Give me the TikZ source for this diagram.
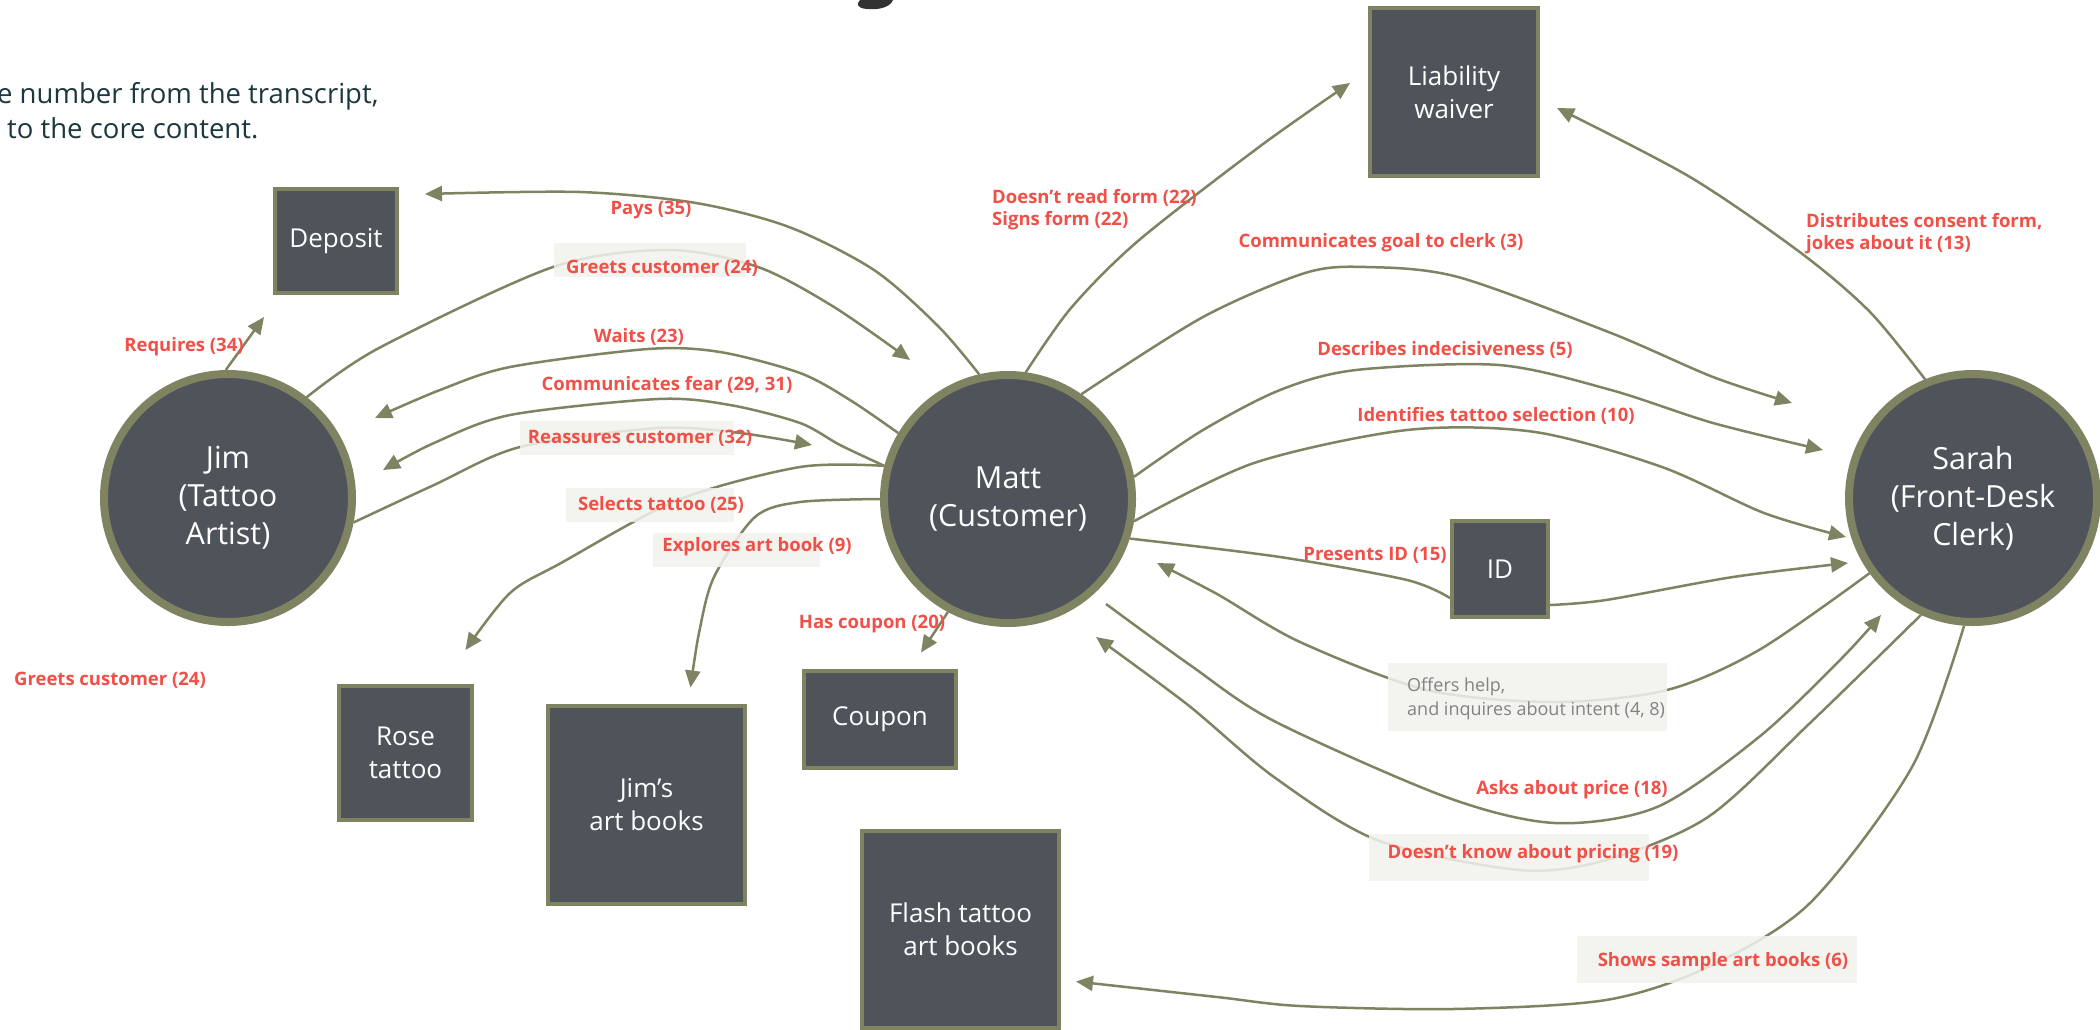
\documentclass[tikz,border=0pt]{standalone}
\usepackage{fontspec}
\setmainfont{Open Sans}
\usetikzlibrary{arrows.meta}
\definecolor{sage}{RGB}{127,131,98}
\definecolor{slate}{RGB}{79,83,90}
\definecolor{coral}{RGB}{240,80,72}
\definecolor{tagbg}{RGB}{242,242,237}
\definecolor{memo}{RGB}{130,130,130}
\definecolor{introteal}{RGB}{28,56,62}
\definecolor{titleink}{RGB}{50,50,50}

\tikzset{
  actor/.style={circle, draw=sage, fill=slate, line width=8pt, minimum size=248pt,
    inner sep=0pt, text=white, align=center, font=\fontsize{30.5}{38}\selectfont},
  thing/.style={rectangle, draw=sage, fill=slate, line width=4pt, inner sep=0pt,
    text=white, align=center, font=\fontsize{26}{33}\selectfont},
  link/.style={draw=sage, line width=2.5pt},
  flow/.style={link, -{Triangle[length=17pt,width=15pt]}},
  act/.style={text=coral, inner sep=0pt, font=\bfseries\fontsize{18.5}{22}\selectfont},
  note/.style={text=memo, inner sep=0pt, align=left, font=\fontsize{18}{24}\selectfont},
  tag/.style={fill=tagbg, fill opacity=.85}
}

\begin{document}
\begin{tikzpicture}[x=1pt, y=-1pt]
\useasboundingbox (0,0) rectangle (2100,1029);
\fill[white] (0,0) rectangle (2100,1029);

% cut-off title and intro text
\fill[titleink] (860,0) -- (893,0) .. controls (890,7) and (880,10) .. (868,9)
  .. controls (862,9) and (857,7) .. (858,3) -- cycle;
\node[anchor=base west, inner sep=0pt, text=introteal, font=\fontsize{27.5}{35}\selectfont]
  (intro1) at (-3,103) {e number from the transcript,};
\node[anchor=base west, inner sep=0pt, text=introteal, font=\fontsize{27.5}{35}\selectfont]
  (intro2) at (7,138) {to the core content.};

% people
\node[actor] (jim) at (228,498) {Jim\\(Tattoo\\Artist)};
\node[actor] (matt) at (1008,499) {Matt\\(Customer)};
\node[actor] (sarah) at (1973,498) {Sarah\\(Front-Desk\\Clerk)};

% things
\node[thing, minimum width=122pt, minimum height=104pt] (deposit) at (336,241) {Deposit};
\node[thing, minimum width=168pt, minimum height=168pt] (liability) at (1454,92) {Liability\\waiver};
\node[thing, minimum width=96pt, minimum height=96pt] (id) at (1500,569) {ID};
\node[thing, minimum width=152pt, minimum height=97pt] (coupon) at (880,719) {Coupon};
\node[thing, minimum width=133pt, minimum height=134pt] (rose) at (405.5,753) {Rose\\tattoo};
\node[thing, minimum width=197pt, minimum height=198pt] (jimbooks) at (646.5,804.5) {Jim’s\\art books};
\node[thing, minimum width=197pt, minimum height=197pt] (flash) at (960.5,929.5) {Flash tattoo\\art books};

% Jim
\draw[flow] (jim.91) -- ([shift={(-9,22)}]deposit.south west);
\draw[flow] plot[smooth] coordinates {(jim.52) (379,348) (553,267) (669,250) (758,267)
  (834,307) ([shift={(-98,-139)}]matt.center)};
\draw[flow] plot[smooth] coordinates {(jim.-11) (434,485) (520,447) (658,428) (740,433)
  ([shift={(-196,-54)}]matt.center)};

% Matt
\draw[flow] plot[smooth] coordinates {(matt.149) (850,400) (800,373) (720,352) (648,349)
  (510,367) (440,390) ([shift={(147,-80)}]jim.center)};
\draw[flow] plot[smooth] coordinates {(matt.165) (840,445) (800,423) (730,405) (658,399)
  (510,415) (434,443) ([shift={(155,-28)}]jim.center)};
\draw[flow] plot[smooth] coordinates {(matt.165) (800,467) (678,500) (561,563) (510,593)
  ([shift={(60,-34)}]rose.north)};
\draw[flow] plot[smooth] coordinates {(matt.180) (800,502) (755,517) (714,577) (699,633)
  ([shift={(44,-16)}]jimbooks.north)};
\draw[flow] plot[smooth] coordinates {(matt.103) (938,326) (874,270) (789,227) (696,203)
  (580,192) ([shift={(26,7)}]deposit.north east)};
\draw[flow] (matt.242) -- ([shift={(41,-16)}]coupon.north);
\draw[flow] plot[smooth] coordinates {(matt.82) (1071,308) (1138,241) (1259,147)
  ([shift={(-18,-9)}]liability.west)};
\draw[flow] plot[smooth] coordinates {(matt.55) (1203,317) (1305,273) (1366,267) (1458,277)
  (1611,333) (1713,377) ([shift={(-181,-95)}]sarah.center)};
\draw[flow] plot[smooth] coordinates {(matt.10) (1203,430) (1280,390) (1356,370) (1499,365)
  (1611,390) (1713,423) ([shift={(-150,-48)}]sarah.center)};
\draw[flow] plot[smooth] coordinates {(matt.-10) (1254,463) (1407,430) (1535,432) (1662,467)
  (1764,513) ([shift={(-127,39)}]sarah.center)};
\draw[link] plot[smooth] coordinates {(matt.-18) (1280,557) (1407,580) ([shift={(0,29)}]id.west)};
\draw[flow] plot[smooth] coordinates {([shift={(0,36)}]id.east) (1606,600) (1733,577)
  ([shift={(-125,65)}]sarah.center)};
\draw[flow] plot[smooth] coordinates {([shift={(98,105)}]matt.center) (1190,665) (1274,721)
  (1446,797) (1555,823) (1657,807) (1759,737) (1840,660) ([shift={(-92,117)}]sarah.center)};

% Sarah
\draw[flow] plot[smooth] coordinates {(sarah.216) (1759,650) (1667,690) (1555,702) (1427,690)
  (1300,642) (1217,594) ([shift={(149,64)}]matt.center)};
\draw[flow] plot[smooth] coordinates {(sarah.246) (1810,723) (1708,817) (1606,860) (1519,870)
  (1377,840) (1274,777) (1188,705) ([shift={(88,138)}]matt.center)};
\draw[flow] plot[smooth] coordinates {(sarah.266) (1912,767) (1810,903) (1708,967) (1606,1000)
  (1453,1009) (1300,1006) (1217,997) ([shift={(15,52)}]flash.east)};
\draw[flow] plot[smooth] coordinates {(sarah.112) (1870,312) (1801,253) (1690,177)
  ([shift={(17,16)}]liability.east)};

% label backgrounds
\fill[tag] (554,243) rectangle (746,277);
\fill[tag] (520,421) rectangle (734,455);
\fill[tag] (566,488) rectangle (734,522);
\fill[tag] (653,533) rectangle (820,567);
\fill[tag] (1388,663) rectangle (1667,731);
\fill[tag] (1369,834) rectangle (1649,881);
\fill[tag] (1577,936) rectangle (1857,983);

% labels
\node[act] (pays) at (651,210) {Pays (35)};
\node[act] (greets) at (662,268) {Greets customer (24)};
\node[act] (waits) at (639,337) {Waits (23)};
\node[act] (fear) at (667,385) {Communicates fear (29, 31)};
\node[act] (reassures) at (640,438) {Reassures customer (32)};
\node[act] (selects) at (661,505) {Selects tattoo (25)};
\node[act] (explores) at (757,547) {Explores art book (9)};
\node[act] (requires) at (184,347) {Requires (34)};
\node[act] (greetsold) at (110,680) {Greets customer (24)};
\node[act, anchor=west, align=left] (signs) at (992,210) {Doesn’t read form (22)\\Signs form (22)};
\node[act] (goal) at (1381,243) {Communicates goal to clerk (3)};
\node[act] (indecisive) at (1445,350) {Describes indecisiveness (5)};
\node[act] (selection) at (1496,416) {Identifies tattoo selection (10)};
\node[act] (presents) at (1375,555) {Presents ID (15)};
\node[note, anchor=west] (offers) at (1407,699) {Offers help,\\and inquires about intent (4, 8)};
\node[act] (price) at (1572,790) {Asks about price (18)};
\node[act] (pricing) at (1533,854) {Doesn’t know about pricing (19)};
\node[act] (samples) at (1723,962) {Shows sample art books (6)};
\node[act, anchor=west, align=left] (consent) at (1806,234) {Distributes consent form,\\jokes about it (13)};
\node[act] (hascoupon) at (872,624) {Has coupon (20)};
\end{tikzpicture}
\end{document}
